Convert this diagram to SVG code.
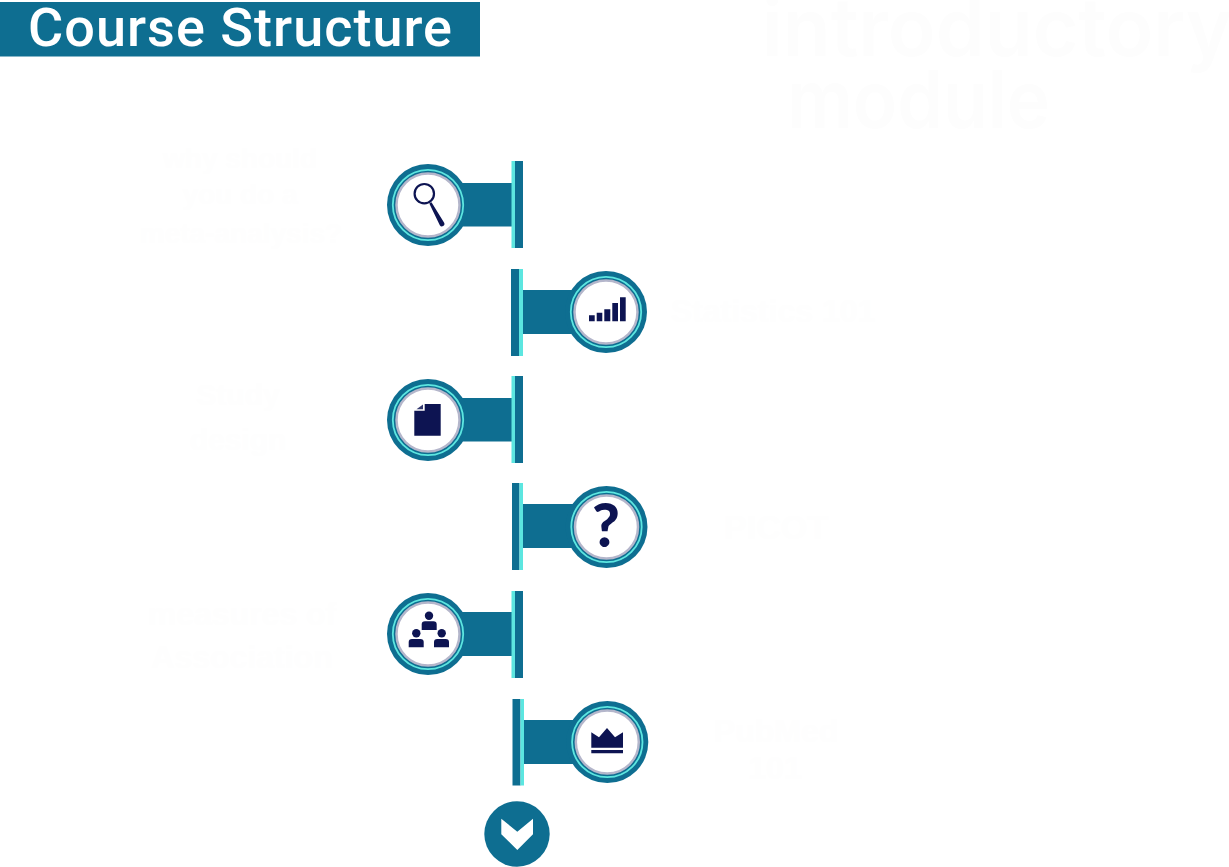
<svg xmlns="http://www.w3.org/2000/svg" width="1229" height="867" viewBox="0 0 1229 867">
<style>
.teal{fill:#0e6e91}
.cyan{fill:#5ce6e0}
.navy{fill:#0d1452}
.title{font:500 54px "Roboto","Noto Sans",sans-serif;fill:#fff}
.ghost{font:700 32px "Liberation Sans",Arial,sans-serif;fill:#fefefe;text-anchor:middle}
.big{font:600 80px "Inter","Liberation Sans",sans-serif;fill:#fdfdfd}
.outer{fill:#0e6e91}
.ring{fill:none;stroke:#5ce6e0;stroke-width:1.8}
.disc{fill:#fff;stroke:#b4b6cb;stroke-width:2.5}
</style>
<defs>
<g id="badge">
<circle class="outer" r="41"/>
<circle class="ring" r="35.2"/>
<circle class="disc" r="31.5"/>
</g>
</defs>
<rect class="teal" x="0" y="2" width="480" height="54.5"/>
<text class="title" x="28" y="46" textLength="424" lengthAdjust="spacing">Course Structure</text>
<text class="big" x="762" y="56" textLength="470" lengthAdjust="spacingAndGlyphs">introductory</text>
<text class="big" x="787" y="128" textLength="263" lengthAdjust="spacingAndGlyphs">module</text>
<g id="connectors">
<rect class="teal" x="460" y="183" width="53" height="43.5"/>
<rect class="teal" x="522" y="290" width="54" height="44"/>
<rect class="teal" x="460" y="398" width="53" height="43.5"/>
<rect class="teal" x="522" y="504" width="54" height="44"/>
<rect class="teal" x="460" y="612" width="53" height="44"/>
<rect class="teal" x="523" y="720" width="56" height="44"/>
</g>
<g id="node-why">
<rect class="cyan" x="511.5" y="161" width="4" height="87"/><rect class="teal" x="515" y="161" width="8" height="87"/>
<use href="#badge" x="428" y="205"/>
<circle cx="424.3" cy="193.7" r="9.7" fill="none" stroke="#0d1452" stroke-width="2.2"/>
<path class="navy" d="M429.3 203.5L431.5 202.3L444 222.6A2.4 2.4 0 0 1 439.8 225.2z"/>
<text class="ghost" style="font-size:28px" x="240" y="168">why should</text>
<text class="ghost" style="font-size:28px" x="240" y="204">you do a</text>
<text class="ghost" style="font-size:28px" x="241" y="243">meta-analysis?</text>
</g>
<g id="node-statistics">
<rect class="teal" x="511" y="269" width="8" height="87"/><rect class="cyan" x="519" y="269" width="4" height="87"/>
<use href="#badge" x="606" y="312"/>
<path class="navy" d="M589 315.3h5.7v6h-5.7zM596.7 312.7h5.6v8.6h-5.6zM604.3 309.3h6v12h-6zM612.3 303h5.7v18.3h-5.7zM620 297.3h5.7v24h-5.7z"/>
<text class="ghost" x="773" y="322">Statistics 101</text>
</g>
<g id="node-study">
<rect class="cyan" x="511.5" y="376" width="4" height="87"/><rect class="teal" x="515" y="376" width="8" height="87"/>
<use href="#badge" x="428" y="420"/>
<path class="navy" d="M424.7 404H440.7V435.7H414.3V410.7H424.7z"/>
<path fill="#343a70" d="M423 404.5V409.3H416.5z"/>
<text class="ghost" style="font-size:30px" x="238" y="405">Study</text>
<text class="ghost" style="font-size:30px" x="238" y="450">design</text>
</g>
<g id="node-picot">
<rect class="teal" x="512" y="483" width="7.5" height="87"/><rect class="cyan" x="519.5" y="483" width="3.5" height="87"/>
<use href="#badge" x="606.5" y="527"/>
<text x="606" y="547" text-anchor="middle" style="font:900 60px 'Lato','Liberation Sans',sans-serif;fill:#0d1452">?</text>
<text class="ghost" style="font-size:34px" x="776" y="539">PICOT</text>
</g>
<g id="node-association">
<rect class="cyan" x="511.5" y="591" width="4" height="87"/><rect class="teal" x="515" y="591" width="8" height="87"/>
<use href="#badge" x="428" y="634"/>
<circle class="navy" cx="429" cy="615.7" r="4.2"/><path class="navy" d="M421.7 630V624.5Q421.7 621.3 425 621.3H433.4Q436.7 621.3 436.7 624.5V630z"/>
<circle class="navy" cx="416.3" cy="633.3" r="4.2"/><path class="navy" d="M408.7 647.3V642Q408.7 639 412 639H420.4Q423.7 639 423.7 642V647.3z"/>
<circle class="navy" cx="441.7" cy="633.3" r="4.2"/><path class="navy" d="M434 647.3V642Q434 639 437.3 639H445.7Q449 639 449 642V647.3z"/>
<text class="ghost" x="242" y="625">measures of</text>
<text class="ghost" x="242" y="668">Association</text>
</g>
<g id="node-pubmed">
<rect class="teal" x="512.5" y="699" width="8" height="86.5"/><rect class="cyan" x="520.5" y="699" width="3.5" height="86.5"/>
<use href="#badge" x="607.3" y="742"/>
<path class="navy" d="M591.3 747.7V732.3L599 737.3L607 728L615 737.3L623 732.3V747.7zM591.3 750H623V753.3H591.3z"/>
<text class="ghost" x="776" y="742">PubMed</text>
<text class="ghost" x="775" y="779">101</text>
</g>
<g id="node-next">
<circle class="teal" cx="517" cy="834" r="32.7"/>
<path fill="#fff" d="M501.3 818.7L517.3 831.7L533 818.7V834.3L517.3 850L501.3 834.3z"/>
</g>
</svg>
